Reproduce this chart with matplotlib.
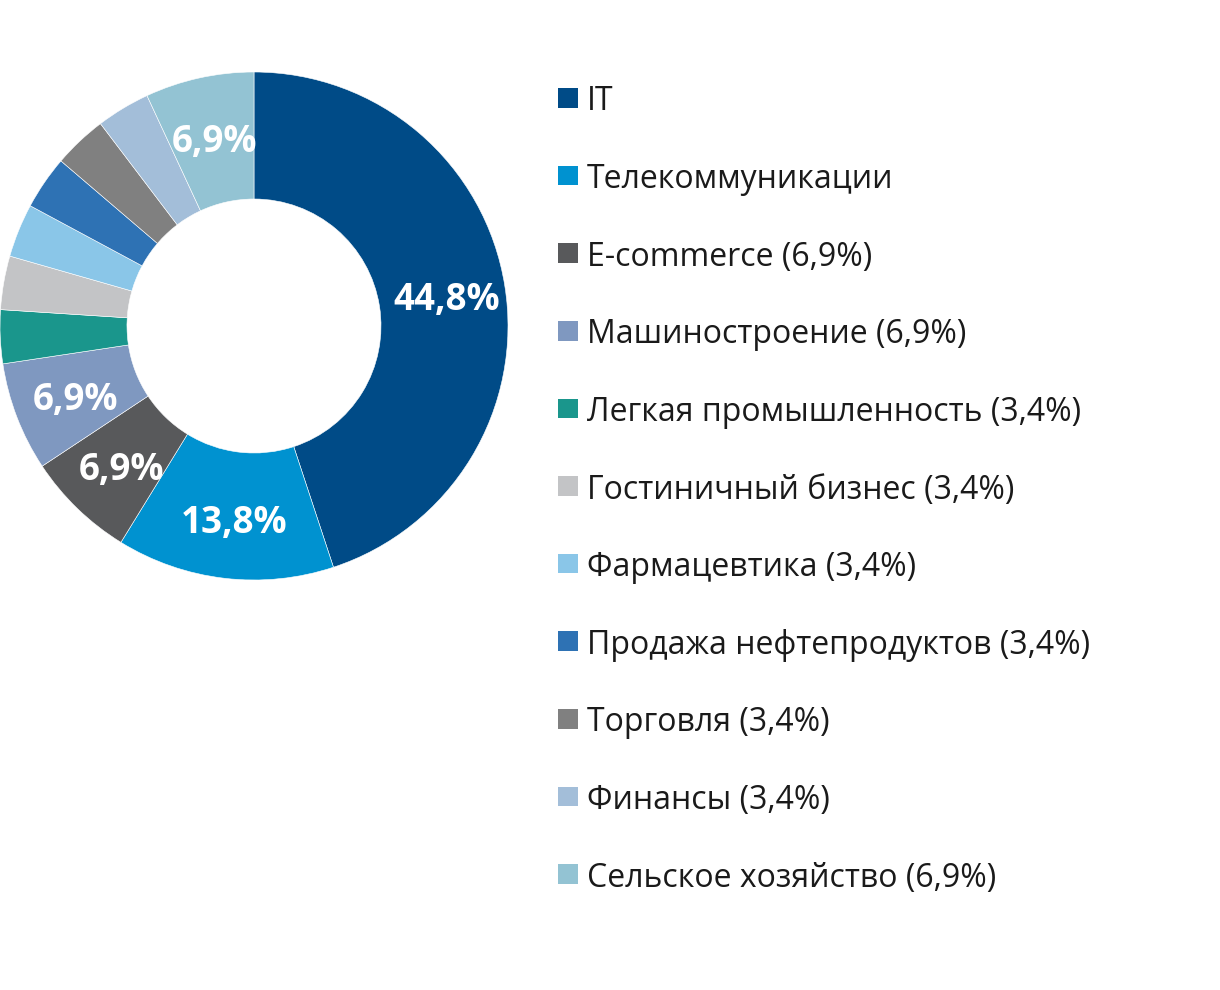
import matplotlib
matplotlib.use("Agg")
import matplotlib.pyplot as plt
from matplotlib.patches import Rectangle
import numpy as np

plt.rcParams['font.family'] = ['Open Sans', 'DejaVu Sans']

categories = ["IT", "Телекоммуникации", "E-commerce", "Машиностроение",
              "Легкая промышленность", "Гостиничный бизнес", "Фармацевтика",
              "Продажа нефтепродуктов", "Торговля", "Финансы", "Сельское хозяйство"]
values = [44.8, 13.8, 6.9, 6.9, 3.4, 3.4, 3.4, 3.4, 3.4, 3.4, 6.9]
legend_labels = ["IT", "Телекоммуникации", "E-commerce (6,9%)", "Машиностроение (6,9%)",
                 "Легкая промышленность (3,4%)", "Гостиничный бизнес (3,4%)",
                 "Фармацевтика (3,4%)", "Продажа нефтепродуктов (3,4%)",
                 "Торговля (3,4%)", "Финансы (3,4%)", "Сельское хозяйство (6,9%)"]
slice_labels = ["44,8%", "13,8%", "6,9%", "6,9%", "", "", "", "", "", "", "6,9%"]
colors = ["#004b87", "#0092d0", "#58595b", "#7f98c0", "#1a968c", "#c3c4c6",
          "#8ac6e8", "#2e72b4", "#808080", "#a3bed9", "#93c3d3"]

W, H = 1220, 990
fig = plt.figure(figsize=(W / 100, H / 100), dpi=100)

cx, cy, R = 254, 326, 254
ax = fig.add_axes([(cx - R) / W, (H - cy - R) / H, 2 * R / W, 2 * R / H])
wedges, _ = ax.pie(values, colors=colors, startangle=90, counterclock=False,
                   radius=1.0, wedgeprops=dict(width=0.5, edgecolor="white", linewidth=0.4))
ax.set_xlim(-1, 1)
ax.set_ylim(-1, 1)
ax.set_aspect("equal")
ax.axis("off")

for w, lab in zip(wedges, slice_labels):
    if not lab:
        continue
    ang = np.deg2rad((w.theta1 + w.theta2) / 2)
    r = 0.76
    ax.annotate(lab, (r * np.cos(ang), r * np.sin(ang)), xytext=(1.5, -3.5),
                textcoords="offset points", ha="center", va="center",
                color="white", fontsize=26.5, fontweight="bold")

# legend
y0, dy = 98, 77.6
sq = 19.5
for i, (lab, c) in enumerate(zip(legend_labels, colors)):
    y = y0 + i * dy
    fig.patches.append(Rectangle(((558) / W, (H - y - sq / 2) / H), sq / W, sq / H,
                                 transform=fig.transFigure, facecolor=c, edgecolor="none"))
    fig.text(587 / W, (H - y) / H, lab, ha="left", va="center_baseline",
             fontsize=23, color="#1a1a1a")

fig.savefig("out.png", dpi=100, facecolor="white")
